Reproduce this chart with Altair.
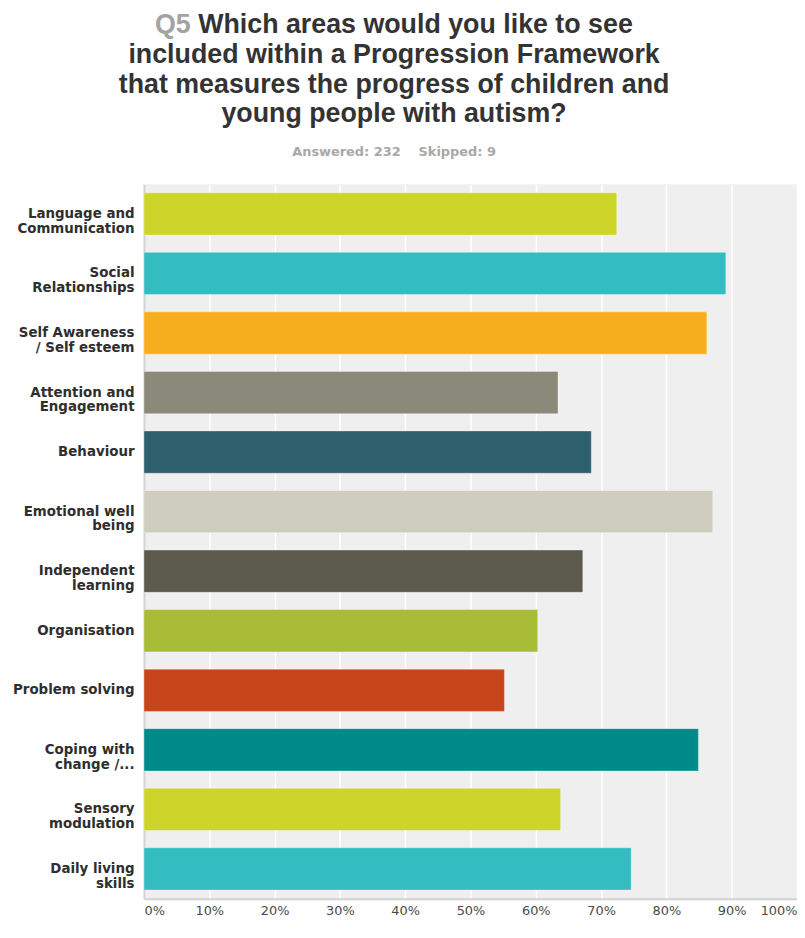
import altair as alt
import pandas as pd

# ---- data ----
categories = [
    "Language and\nCommunication",
    "Social\nRelationships",
    "Self Awareness\n/ Self esteem",
    "Attention and\nEngagement",
    "Behaviour",
    "Emotional well\nbeing",
    "Independent\nlearning",
    "Organisation",
    "Problem solving",
    "Coping with\nchange /...",
    "Sensory\nmodulation",
    "Daily living\nskills",
]
values = [72.4, 89.1, 86.2, 63.4, 68.5, 87.1, 67.2, 60.3, 55.2, 84.9, 63.8, 74.6]
colors = [
    "#CDD52B", "#33BDC0", "#F6AE1E", "#8A8A7A", "#2D5F6D", "#CFCDBF",
    "#5B5A4C", "#A8BC38", "#C8451B", "#008A8A", "#CDD52B", "#33BDC0",
]
x_ticks = [0, 10, 20, 30, 40, 50, 60, 70, 80, 90, 100]

question_no = "Q5"
title_lines = [
    "Which areas would you like to see",
    "included within a Progression Framework",
    "that measures the progress of children and",
    "young people with autism?",
]
subtitle = "Answered: 232\u00a0\u00a0\u00a0\u00a0Skipped: 9"

# ---- chart ----
df = pd.DataFrame({"area": categories, "pct": values})

bars = alt.Chart(df).mark_bar(
    stroke="white", strokeOpacity=0.35, strokeWidth=1
).encode(
    y=alt.Y(
        "area:N",
        sort=categories,
        scale=alt.Scale(paddingInner=0.29, paddingOuter=0.145),
        axis=alt.Axis(
            title=None,
            labelExpr="split(datum.label, '\\n')",
            labelFont="DejaVu Sans",
            labelFontWeight="bold",
            labelFontSize=13.5,
            labelLineHeight=15,
            labelColor="#2e2e2e",
            labelPadding=10,
            labelLimit=200,
            ticks=False,
            grid=False,
            domainColor="#d2d2d2",
            domainWidth=2,
        ),
    ),
    x=alt.X(
        "pct:Q",
        scale=alt.Scale(domain=[0, 100], nice=False),
        axis=alt.Axis(
            title=None,
            values=x_ticks,
            labelExpr="datum.value + '%'",
            labelFlush=True,
            labelFont="DejaVu Sans",
            labelFontSize=13,
            labelColor="#4a4a4a",
            labelPadding=6,
            ticks=False,
            grid=True,
            gridColor="#ffffff",
            gridWidth=1.5,
            domainColor="#d2d2d2",
            domainWidth=2,
        ),
    ),
    color=alt.Color(
        "area:N", scale=alt.Scale(domain=categories, range=colors), legend=None
    ),
)

TITLE_X = 252  # centre of the header, relative to the plot's left edge
line_y = [-160, -130, -100, -71]


def header_text(text, x, y, color, size, align="center", font="Liberation Sans"):
    return alt.Chart(pd.DataFrame({"t": [text]})).mark_text(
        align=align,
        baseline="middle",
        font=font,
        fontWeight="bold",
        fontSize=size,
        color=color,
    ).encode(text="t:N", x=alt.value(x), y=alt.value(y))


q_width = 43.5
line1_width = 481.7
line1_left = TITLE_X - line1_width / 2

layers = [bars]
layers.append(header_text(question_no, line1_left, line_y[0], "#a3a3a3", 27, align="left"))
layers.append(header_text(title_lines[0], line1_left + q_width, line_y[0], "#333333", 27, align="left"))
for txt, yy in zip(title_lines[1:], line_y[1:]):
    layers.append(header_text(txt, TITLE_X, yy, "#333333", 27))
layers.append(header_text(subtitle, TITLE_X, -32, "#a8a8a8", 13, font="DejaVu Sans"))

chart = alt.layer(*layers).properties(
    width=658,
    height=720,
    autosize=alt.AutoSizeParams(type="none"),
    padding={"left": 137, "top": 174, "right": 0, "bottom": 21},
).configure_view(
    fill="#efefef", strokeWidth=0
)

chart.save("out.html", embed_options={"renderer": "svg", "actions": False})
